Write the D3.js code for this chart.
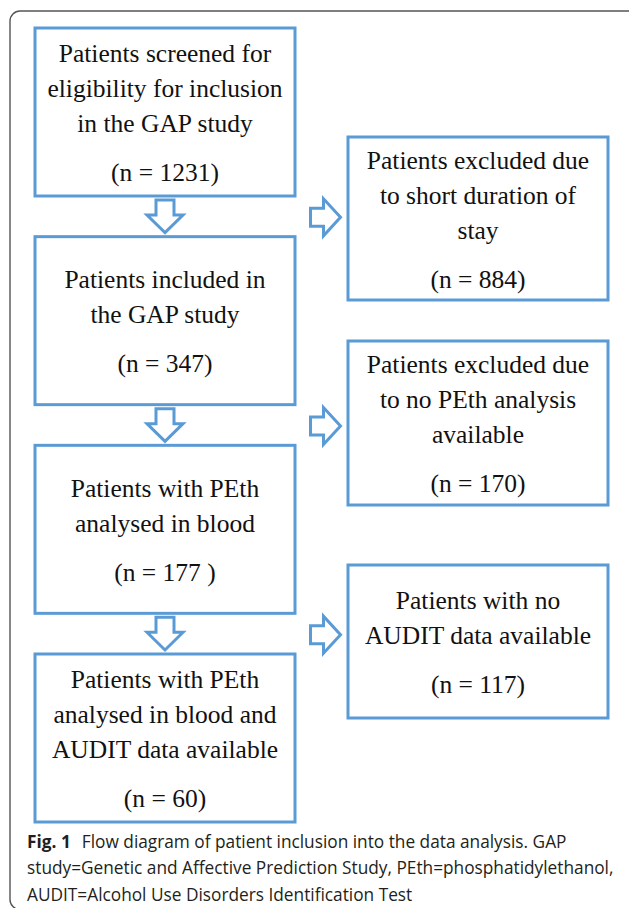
<!DOCTYPE html>
<html>
<head>
<meta charset="utf-8">
<script src="https://cdn.jsdelivr.net/npm/d3@7"></script>
<style>
  html, body { margin: 0; padding: 0; background: #fff; }
</style>
</head>
<body>
<div id="chart"></div>
<script>
// box texts, top to bottom
var leftLabels = [
  ['Patients screened for', 'eligibility for inclusion', 'in the GAP study'],
  ['Patients included in', 'the GAP study'],
  ['Patients with PEth', 'analysed in blood'],
  ['Patients with PEth', 'analysed in blood and', 'AUDIT data available']
];
var leftCounts = ['(n = 1231)', '(n = 347)', '(n = 177 )', '(n = 60)'];

var rightLabels = [
  ['Patients excluded due', 'to short duration of', 'stay'],
  ['Patients excluded due', 'to no PEth analysis', 'available'],
  ['Patients with no', 'AUDIT data available']
];
var rightCounts = ['(n = 884)', '(n = 170)', '(n = 117)'];

var captionLines = [
  'Flow diagram of patient inclusion into the data analysis. GAP',
  'study=Genetic and Affective Prediction Study, PEth=phosphatidylethanol,',
  'AUDIT=Alcohol Use Disorders Identification Test'
];

var W = 629, H = 908,
  blue = '#5b9bd5',
  lineGap = 35, countGap = 49,
  leftX = [35, 295], rightX = [348, 608],
  boxH = 168,
  rightTop = [137, 341, 565], rightH = [163, 164, 153];

var rowY = d3.scaleLinear().domain([0, leftLabels.length - 1]).range([28, 654]);
var midX = (leftX[0] + leftX[1]) / 2;

var svg = d3.select('#chart').append('svg')
  .attr('width', W).attr('height', H);

svg.append('rect').attr('width', W).attr('height', H).attr('fill', '#fff');

// outer frame (runs off the right and bottom edges, only the corner shows)
svg.append('rect').attr('x', 10).attr('y', 11)
  .attr('width', 700).attr('height', 898.5).attr('rx', 10)
  .attr('fill', 'none').attr('stroke', '#555').attr('stroke-width', 1.4);

function drawBox(x0, x1, top, h, lines, count) {
  var g = svg.append('g');
  g.append('rect').attr('x', x0).attr('y', top)
    .attr('width', x1 - x0).attr('height', h)
    .attr('fill', '#fff').attr('stroke', blue).attr('stroke-width', 3);
  var block = (lines.length - 1) * lineGap + countGap,
    first = top + h / 2 + 9.5 - block / 2,
    cx = (x0 + x1) / 2;
  var t = g.append('g')
    .attr('font-family', '"Liberation Serif", "Times New Roman", serif')
    .attr('font-size', 25.5).attr('fill', '#111').attr('text-anchor', 'middle');
  t.selectAll('text.l').data(lines).enter().append('text')
    .attr('class', 'l').attr('x', cx)
    .attr('y', function(d, i) { return first + i * lineGap; })
    .style('white-space', 'pre')
    .text(function(d) { return d; });
  t.append('text').attr('x', cx)
    .attr('y', first + (lines.length - 1) * lineGap + countGap)
    .style('white-space', 'pre')
    .text(count);
}

leftLabels.forEach(function(lines, i) {
  drawBox(leftX[0], leftX[1], rowY(i), boxH, lines, leftCounts[i]);
});
rightLabels.forEach(function(lines, i) {
  drawBox(rightX[0], rightX[1], rightTop[i], rightH[i], lines, rightCounts[i]);
});

// arrows in the gaps between the left boxes
d3.range(leftLabels.length - 1).forEach(function(i) {
  var y0 = rowY(i) + boxH + 4, y1 = rowY(i + 1) - 4, yh = y0 + 15;
  var p = d3.path();
  p.moveTo(midX - 9, y0); p.lineTo(midX + 9, y0); p.lineTo(midX + 9, yh);
  p.lineTo(midX + 18, yh); p.lineTo(midX, y1); p.lineTo(midX - 18, yh);
  p.lineTo(midX - 9, yh); p.closePath();
  svg.append('path').attr('d', p.toString())
    .attr('fill', '#fff').attr('stroke', blue).attr('stroke-width', 3);

  var cy = (rowY(i) + boxH + rowY(i + 1)) / 2 + 1,
    x0 = 310.5, x1 = 340.5, xh = 323.5;
  var q = d3.path();
  q.moveTo(x0, cy - 9); q.lineTo(xh, cy - 9); q.lineTo(xh, cy - 18.5);
  q.lineTo(x1, cy); q.lineTo(xh, cy + 18.5); q.lineTo(xh, cy + 9);
  q.lineTo(x0, cy + 9); q.closePath();
  svg.append('path').attr('d', q.toString())
    .attr('fill', '#fff').attr('stroke', blue).attr('stroke-width', 3);
});

// caption: squeeze the (wider) Open Sans horizontally so the
// long second line ends where the reference does
var capLeft = 27, capRight = 614, capY = [848, 874.5, 901];
var cap = svg.append('g')
  .attr('font-family', '"Open Sans", "Noto Sans", sans-serif')
  .attr('font-size', 18).attr('fill', '#231f20');
var fig = cap.append('text').attr('x', 0).attr('y', capY[0])
  .attr('font-weight', 'bold').text('Fig. 1');
var capText = cap.selectAll('text.c').data(captionLines).enter().append('text')
  .attr('class', 'c')
  .attr('y', function(d, i) { return capY[i]; })
  .text(function(d) { return d; });
var k = (capRight - capLeft) / capText.nodes()[1].getComputedTextLength();
var figW = fig.node().getComputedTextLength();
capText.attr('x', function(d, i) { return i === 0 ? figW + 11 / k : 0; });
cap.attr('transform', 'translate(' + capLeft + ',0) scale(' + k + ',1)');
</script>
</body>
</html>
